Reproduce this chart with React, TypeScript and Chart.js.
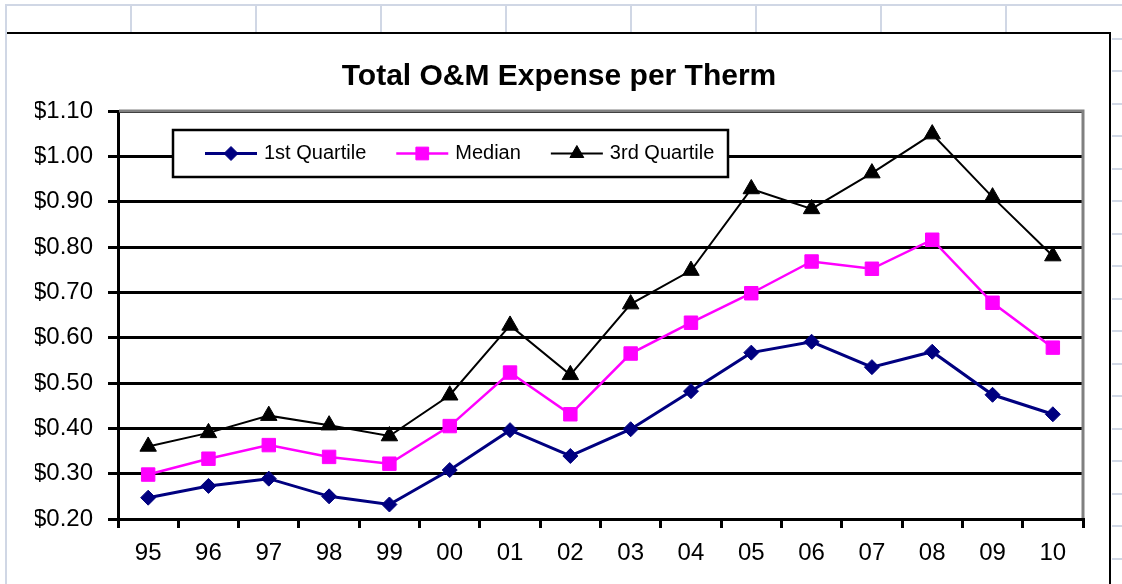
import React, { useEffect, useRef } from 'react';
import { Chart, registerables } from 'chart.js';
import { drawPoint } from 'chart.js/helpers';

Chart.register(...registerables);

const years = ['95', '96', '97', '98', '99', '00', '01', '02', '03', '04', '05', '06', '07', '08', '09', '10'];
const firstQuartile = [0.247, 0.273, 0.289, 0.250, 0.232, 0.308, 0.396, 0.339, 0.398, 0.482, 0.567, 0.591, 0.535, 0.569, 0.474, 0.431];
const median = [0.298, 0.333, 0.363, 0.337, 0.322, 0.405, 0.523, 0.431, 0.565, 0.633, 0.698, 0.768, 0.752, 0.816, 0.677, 0.578];
const thirdQuartile = [0.360, 0.390, 0.428, 0.407, 0.383, 0.473, 0.627, 0.518, 0.674, 0.748, 0.928, 0.884, 0.963, 1.049, 0.910, 0.780];
const seriesLabels = ['1st Quartile', 'Median', '3rd Quartile'];
const titleText = 'Total O&M Expense per Therm';

const FONT = '"Liberation Sans", Arial, sans-serif';

const plotBorderPlugin = {
  id: 'plotBorder',
  beforeDatasetsDraw(chart: any) {
    const { ctx, chartArea } = chart;
    const { left, top, right, bottom } = chartArea;
    ctx.save();
    ctx.strokeStyle = '#808080';
    ctx.lineWidth = 3;
    ctx.beginPath();
    ctx.moveTo(left + 1, top);
    ctx.lineTo(right, top);
    ctx.lineTo(right, bottom - 1);
    ctx.stroke();
    ctx.restore();
  },
};

const boxLegendPlugin = {
  id: 'boxLegend',
  afterDatasetsDraw(chart: any) {
    const { ctx, chartArea } = chart;
    const x0 = chartArea.left + 55;
    const y0 = chartArea.top + 19;
    const w = 555;
    const h = 47;
    ctx.save();
    ctx.fillStyle = '#ffffff';
    ctx.fillRect(x0, y0, w, h);
    ctx.lineWidth = 2.5;
    ctx.strokeStyle = '#000000';
    ctx.strokeRect(x0, y0, w, h);
    ctx.font = `20px ${FONT}`;
    ctx.textBaseline = 'middle';
    ctx.textAlign = 'left';
    const cy = y0 + h / 2;
    let x = x0 + 32;
    chart.data.datasets.forEach((ds: any) => {
      ctx.strokeStyle = ds.borderColor;
      ctx.lineWidth = ds.borderWidth;
      ctx.beginPath();
      ctx.moveTo(x, cy);
      ctx.lineTo(x + 52, cy);
      ctx.stroke();
      ctx.fillStyle = ds.pointBackgroundColor;
      ctx.strokeStyle = ds.pointBorderColor;
      ctx.lineWidth = 1;
      drawPoint(ctx, { pointStyle: ds.pointStyle, radius: ds.legendRadius, rotation: 0, borderWidth: 1 } as any, x + 26, cy);
      ctx.fillStyle = '#000000';
      ctx.fillText(ds.label, x + 59, cy);
      x += 59 + ctx.measureText(ds.label).width + 30;
    });
    ctx.restore();
  },
};

export default function App() {
  const ref = useRef<HTMLCanvasElement>(null);

  useEffect(() => {
    const chart = new Chart(ref.current as HTMLCanvasElement, {
      type: 'line',
      data: {
        labels: years,
        datasets: [
          {
            label: seriesLabels[0],
            data: firstQuartile,
            borderColor: '#000080',
            backgroundColor: '#000080',
            borderWidth: 3,
            pointStyle: 'rectRot',
            pointRadius: 7.5,
            pointBackgroundColor: '#000080',
            pointBorderColor: '#000080',
            pointBorderWidth: 1,
            tension: 0,
            legendRadius: 7,
          } as any,
          {
            label: seriesLabels[1],
            data: median,
            borderColor: '#FF00FF',
            backgroundColor: '#FF00FF',
            borderWidth: 2.5,
            pointStyle: 'rect',
            pointRadius: 9.5,
            pointBackgroundColor: '#FF00FF',
            pointBorderColor: '#FF00FF',
            pointBorderWidth: 1,
            tension: 0,
            legendRadius: 9,
          } as any,
          {
            label: seriesLabels[2],
            data: thirdQuartile,
            borderColor: '#000000',
            backgroundColor: '#000000',
            borderWidth: 2,
            pointStyle: 'triangle',
            pointRadius: 9.5,
            pointBackgroundColor: '#000000',
            pointBorderColor: '#000000',
            pointBorderWidth: 1,
            tension: 0,
            legendRadius: 8,
          } as any,
        ],
      },
      options: {
        responsive: false,
        animation: false,
        events: [],
        layout: { padding: { left: 28, right: 26, top: 0, bottom: 0 } },
        plugins: {
          legend: { display: false },
          tooltip: { enabled: false },
          title: {
            display: true,
            text: titleText,
            color: '#000000',
            font: { family: FONT, size: 30, weight: 'bold', lineHeight: 1.2 },
            padding: { top: 24.6, bottom: 16.4 },
          },
        },
        scales: {
          x: {
            type: 'category',
            offset: true,
            afterFit: (scale: any) => {
              scale.height = 65;
            },
            grid: {
              offset: true,
              drawOnChartArea: false,
              drawTicks: true,
              tickLength: 9,
              color: '#000000',
              lineWidth: 3,
            },
            border: { display: true, color: '#000000', width: 3 },
            ticks: {
              color: '#000000',
              font: { family: FONT, size: 24 },
              padding: 11,
              maxRotation: 0,
              autoSkip: false,
            },
          },
          y: {
            min: 0.2,
            max: 1.1,
            afterFit: (scale: any) => {
              scale.width = 83;
            },
            grid: {
              color: '#000000',
              lineWidth: 3,
              drawTicks: true,
              tickLength: 10,
            },
            border: { display: true, color: '#000000', width: 3 },
            ticks: {
              stepSize: 0.1,
              color: '#000000',
              font: { family: FONT, size: 24 },
              padding: 15,
              callback: (v: any) => '$' + Number(v).toFixed(2),
            },
          },
        },
      } as any,
      plugins: [plotBorderPlugin, boxLegendPlugin],
    });
    return () => chart.destroy();
  }, []);

  const sheetLine = '#d0d7e5';
  const colXs = [130, 255, 380, 505, 630, 755, 880, 1005];
  const rowYs: number[] = [];
  for (let k = 0; k < 17; k++) rowYs.push(Math.round(37.5 + 32.5 * k));

  return (
    <div style={{ position: 'absolute', left: 0, top: 0, width: 1122, height: 584, overflow: 'hidden', background: '#ffffff' }}>
      <div style={{ position: 'absolute', left: 5, top: 4, width: 1117, height: 2, background: sheetLine }} />
      <div style={{ position: 'absolute', left: 5, top: 4, width: 2, height: 580, background: sheetLine }} />
      {colXs.map((x) => (
        <div key={'c' + x} style={{ position: 'absolute', left: x, top: 4, width: 2, height: 28, background: sheetLine }} />
      ))}
      {rowYs.map((y) => (
        <div key={'r' + y} style={{ position: 'absolute', left: 1112, top: y, width: 10, height: 2, background: sheetLine }} />
      ))}
      <div
        style={{
          position: 'absolute',
          left: 7,
          top: 32,
          width: 1102,
          height: 550,
          borderTop: '2px solid #000000',
          borderRight: '2px solid #000000',
          background: '#ffffff',
        }}
      >
        <canvas ref={ref} width={1102} height={550} style={{ display: 'block', width: 1102, height: 550 }} />
      </div>
    </div>
  );
}
